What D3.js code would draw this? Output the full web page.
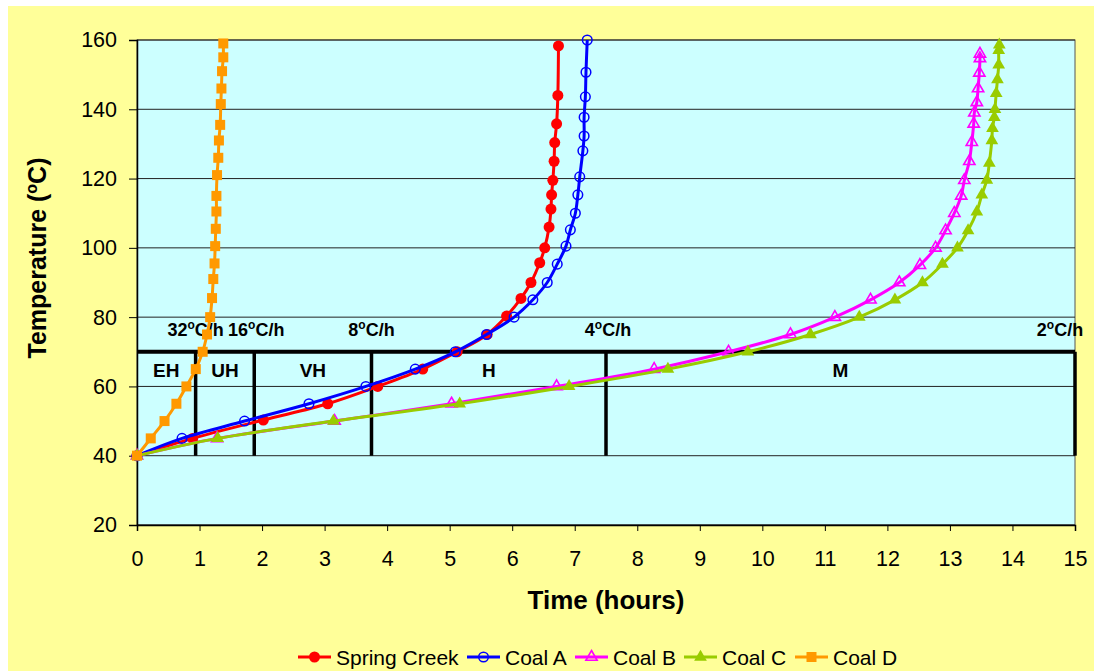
<!DOCTYPE html>
<html><head><meta charset="utf-8">
<script src="https://cdn.jsdelivr.net/npm/d3@7"></script>
<style>body{margin:0;background:#fff;}svg{display:block;font-family:"Liberation Sans",Arial,sans-serif;}</style>
</head><body>
<svg id="c" width="1094" height="671"></svg>
<script>
const springCreek = [[0,40],[0.89,45],[2.02,50.3],[3.05,55],[3.85,60],[4.57,65],[5.12,70],[5.60,75],[5.91,80.3],[6.14,85.4],[6.30,90],[6.44,95.7],[6.52,100],[6.59,106],[6.62,111.2],[6.63,115.3],[6.65,119.5],[6.67,125],[6.68,130.4],[6.71,135.8],[6.73,144],[6.74,158.3]];
const coalA = [[0,40],[0.72,45],[1.72,50],[2.75,55],[3.66,60],[4.45,65],[5.09,70],[5.59,75],[6.03,80],[6.33,85],[6.56,90],[6.72,95.3],[6.86,100.5],[6.93,105.2],[7.01,110],[7.05,115.3],[7.08,120.5],[7.13,128],[7.15,132.3],[7.15,137.7],[7.17,143.6],[7.18,150.7],[7.20,160]];
const coalB = [[0,40],[1.28,45],[3.16,50],[5.03,55],[6.71,60],[8.27,65],[9.46,70],[10.45,75],[11.16,80],[11.73,85],[12.19,90],[12.52,95],[12.77,100],[12.93,105],[13.07,110],[13.18,115],[13.23,119.5],[13.31,125],[13.35,130.5],[13.38,135.8],[13.39,139],[13.43,142],[13.45,146],[13.47,150.5],[13.48,154.7],[13.48,156]];
const coalC = [[0,40],[1.29,45],[3.14,50],[5.16,55],[6.91,60],[8.49,65],[9.77,70],[10.77,75],[11.55,80],[12.12,85],[12.56,90],[12.88,95.3],[13.12,100],[13.29,105],[13.43,110.4],[13.51,115.3],[13.59,119.6],[13.63,124.5],[13.67,131],[13.68,134.5],[13.71,137.7],[13.72,140],[13.74,144.6],[13.76,148.6],[13.78,152.8],[13.78,157],[13.79,158.6]];
const coalD = [[0,40],[0.22,45],[0.44,50],[0.63,55],[0.79,60],[0.94,65],[1.05,70],[1.12,75],[1.17,80],[1.20,85.5],[1.22,91],[1.24,95.5],[1.25,100.5],[1.26,105.5],[1.27,110.5],[1.27,115],[1.28,121],[1.30,126],[1.31,131],[1.33,135.5],[1.34,141.5],[1.35,146],[1.36,151],[1.38,155],[1.38,159]];
const seriesNames = ["Spring Creek","Coal A","Coal B","Coal C","Coal D"];
const rates = [32,16,8,4,2];
const zoneNames = ["EH","UH","VH","H","M"];
const xTicks = d3.range(0,16,1);
const yTicks = d3.range(20,161,20);

const svg = d3.select("#c");
const W=1094,H=671;
const m={l:137,r:1075,t:40,b:525};
svg.append("rect").attr("x",8).attr("y",6).attr("width",W-8).attr("height",H-6).attr("fill","#FFFF99");
const x=d3.scaleLinear().domain([0,15]).range([m.l,m.r]);
const y=d3.scaleLinear().domain([20,160]).range([m.b,m.t]);
svg.append("rect").attr("x",m.l).attr("y",m.t).attr("width",m.r-m.l).attr("height",m.b-m.t).attr("fill","#CCFFFF").attr("stroke","#555").attr("stroke-width",1);
// grid
svg.append("g").selectAll("line").data(yTicks).join("line")
 .attr("x1",m.l).attr("x2",m.r).attr("y1",d=>y(d)).attr("y2",d=>y(d)).attr("stroke","#222").attr("stroke-width",1);
// axes
const ya=svg.append("g").attr("transform",`translate(${m.l},0)`).call(d3.axisLeft(y).tickValues(yTicks).tickSize(8).tickPadding(12));
const xa=svg.append("g").attr("transform",`translate(0,${m.b})`).call(d3.axisBottom(x).tickValues(xTicks).tickSize(6).tickPadding(20));
[ya,xa].forEach(a=>{a.selectAll("text").attr("font-size",21.5).attr("fill","#000").attr("font-family","'Liberation Sans',Arial,sans-serif");a.select(".domain").attr("stroke","#000").attr("stroke-width",1.5);a.selectAll(".tick line").attr("stroke","#000");});

// zones
const bounds = rates.map(r=>30/r);
const zg=svg.append("g");
zg.append("line").attr("x1",x(0)).attr("x2",x(15)).attr("y1",y(70)).attr("y2",y(70)).attr("stroke","#000").attr("stroke-width",4);
zg.selectAll("line.v").data(bounds).join("line").attr("class","v")
 .attr("x1",d=>x(d)).attr("x2",d=>x(d)).attr("y1",y(70)).attr("y2",y(40)).attr("stroke","#000").attr("stroke-width",3.5);
const rateOffsets=[0,2,0,2,-15];
const rl=zg.selectAll("text.rate").data(rates).join("text").attr("class","rate")
 .attr("x",(d,i)=>x(bounds[i])+rateOffsets[i]).attr("y",y(70)-16).attr("text-anchor","middle")
 .attr("font-size",18).attr("font-weight","bold");
rl.append("tspan").text(d=>d);
rl.append("tspan").attr("dy",-7).attr("font-size",12).text("o");
rl.append("tspan").attr("dy",7).text("C/h");
const zstart=[0].concat(bounds.slice(0,4));
zg.selectAll("text.zone").data(zoneNames).join("text").attr("class","zone")
 .attr("x",(d,i)=>(x(zstart[i])+x(bounds[i]))/2).attr("y",y(70)+25).attr("text-anchor","middle")
 .attr("font-size",19).attr("font-weight","bold").text(d=>d);

// series
const colors=["#FF0000","#0000FF","#FF00FF","#99CC00","#FF9900"];
const data=[springCreek,coalA,coalB,coalC,coalD];
const line=d3.line().x(d=>x(d[0])).y(d=>y(d[1])).curve(d3.curveCatmullRom.alpha(0.5));
function marker(g,i,cx,cy){
  const c=colors[i];
  if(i===0) g.append("circle").attr("cx",cx).attr("cy",cy).attr("r",5.5).attr("fill",c);
  else if(i===1) g.append("circle").attr("cx",cx).attr("cy",cy).attr("r",4.8).attr("fill","none").attr("stroke",c).attr("stroke-width",1.5);
  else if(i===2) g.append("path").attr("d",d3.symbol(d3.symbolTriangle,55)()).attr("transform",`translate(${cx},${cy})`).attr("fill","none").attr("stroke",c).attr("stroke-width",1.6);
  else if(i===3) g.append("path").attr("d",d3.symbol(d3.symbolTriangle,70)()).attr("transform",`translate(${cx},${cy})`).attr("fill",c);
  else g.append("rect").attr("x",cx-5).attr("y",cy-5).attr("width",10).attr("height",10).attr("fill",c);
}
[0,1,2,3,4].forEach(i=>{
  const g=svg.append("g");
  g.append("path").datum(data[i]).attr("d",line).attr("fill","none").attr("stroke",colors[i]).attr("stroke-width",3);
  data[i].forEach(p=>marker(g,i,x(p[0]),y(p[1])));
});

// axis titles
svg.append("text").attr("x",606).attr("y",609).attr("text-anchor","middle").attr("font-size",26).attr("font-weight","bold").text("Time (hours)");
const yt=svg.append("text").attr("transform",`translate(46,258) rotate(-90)`).attr("text-anchor","middle").attr("font-size",25).attr("font-weight","bold");
yt.append("tspan").text("Temperature (");
yt.append("tspan").attr("dy",-9).attr("font-size",16).text("o");
yt.append("tspan").attr("dy",9).text("C)");

// legend
const lg=svg.append("g");
const lx=[298,467,575,684,795];
seriesNames.forEach((n,i)=>{
  const g=lg.append("g");
  g.append("line").attr("x1",lx[i]).attr("x2",lx[i]+33).attr("y1",657).attr("y2",657).attr("stroke",colors[i]).attr("stroke-width",3);
  marker(g,i,lx[i]+16.5,657);
  g.append("text").attr("x",lx[i]+38).attr("y",665).attr("font-size",21).text(n);
});
</script>
</body></html>
